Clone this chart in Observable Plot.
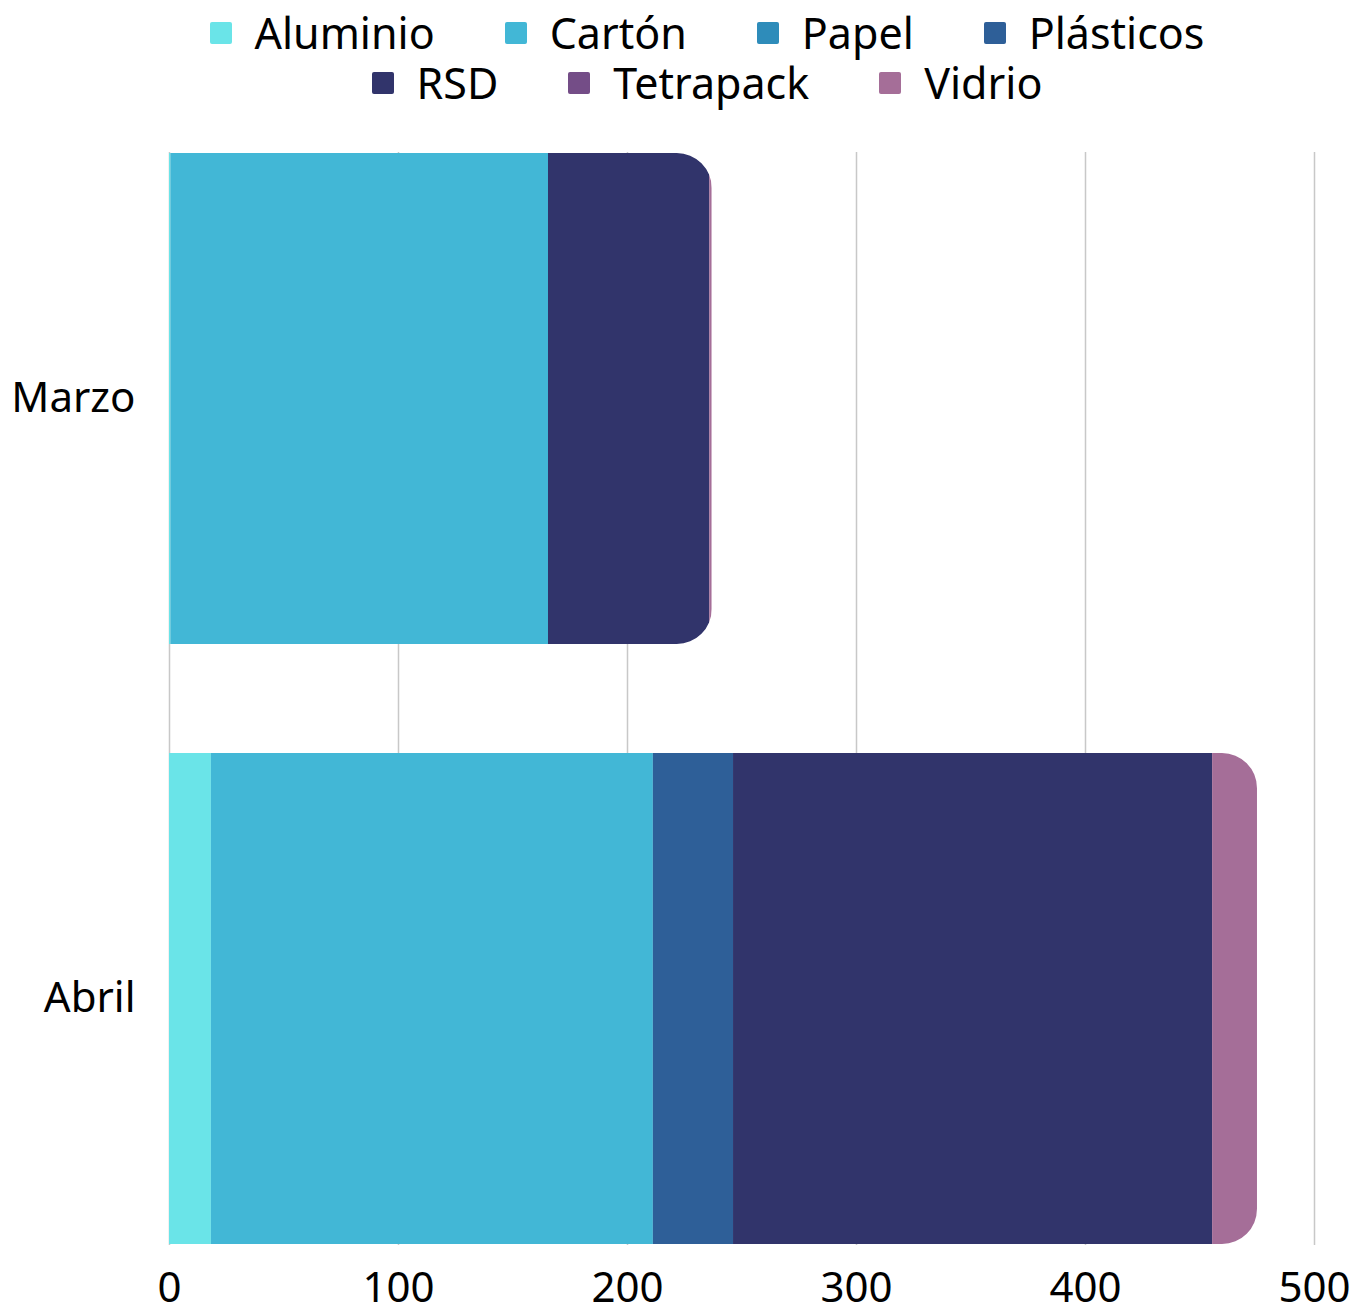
<!DOCTYPE html>
<html>
<head>
<meta charset="utf-8">
<script src="https://cdn.jsdelivr.net/npm/d3@7"></script>
<script src="https://cdn.jsdelivr.net/npm/@observablehq/plot@0.6"></script>
<style>
  body { margin: 0; background: #fff; font-family: "Noto Sans", sans-serif; }
  #legend { width: 1110px; margin-left: 152px; height: 110px; display: flex; flex-wrap: wrap; justify-content: center; align-content: flex-start; padding-top: 8px; box-sizing: border-box; }
  .item { display: flex; align-items: center; font-size: 43px; line-height: 50px; margin: 0 35px; color: #000; }
  .sw { width: 22px; height: 22px; border-radius: 2px; margin-right: 23px; }
</style>
</head>
<body>
<div id="legend"></div>
<div id="chart"></div>
<script>
const months = ["Marzo", "Abril"];
const categories = ["Aluminio", "Cartón", "Papel", "Plásticos", "RSD", "Tetrapack", "Vidrio"];
const colors = ["#6ae4e8", "#42b7d6", "#2e8cba", "#2e5f98", "#31346b", "#744d87", "#a56e98"];
const aluminio = [0.6, 18.3];
const carton = [164.9, 193];
const papel = [0, 0];
const plasticos = [0, 35];
const rsd = [70.4, 209.2];
const tetrapack = [0, 0];
const vidrio = [1.1, 19.6];
const xTicks = [0, 100, 200, 300, 400, 500];

const series = [aluminio, carton, papel, plasticos, rsd, tetrapack, vidrio];
const data = [];
months.forEach((m, i) => categories.forEach((c, j) => data.push({month: m, category: c, value: series[j][i]})));
const totals = months.map((m, i) => ({month: m, total: d3.sum(series, s => s[i])}));

// legend
const legend = document.getElementById("legend");
categories.forEach((c, j) => {
  const it = document.createElement("div");
  it.className = "item";
  it.innerHTML = `<span class="sw" style="background:${colors[j]}"></span><span>${c}</span>`;
  legend.appendChild(it);
});

const chart = Plot.plot({
  width: 1359,
  height: 1203,
  marginLeft: 169,
  marginRight: 45,
  marginTop: 42,
  marginBottom: 68,
  style: {fontFamily: "Noto Sans, sans-serif", fontSize: "42px", color: "#000", background: "#fff", overflow: "visible"},
  x: {domain: [0, 500], ticks: xTicks, label: null, tickSize: 0, tickPadding: 27},
  y: {domain: months, label: null, tickSize: 0, tickPadding: 34, paddingInner: 0.181, paddingOuter: 0},
  color: {domain: categories, range: colors},
  marks: [
    Plot.gridX(xTicks, {stroke: "#c8c8c8", strokeOpacity: 1, strokeWidth: 1.5}),
    Plot.barX(data, {x: "value", y: "month", fill: "category", order: categories, ariaDescription: "segments"}),
    Plot.barX(totals, {x1: -30, x2: "total", y: "month", rx: 35, fill: "black", ariaDescription: "clipshape"})
  ]
});
document.getElementById("chart").appendChild(chart);

// turn rounded total bars into a clip path for the stacked segments
const svg = chart.tagName.toLowerCase() === "svg" ? chart : chart.querySelector("svg");
const barGroups = Array.from(svg.querySelectorAll('g[aria-label="bar"]'));
const segG = svg.querySelector('g[aria-description="segments"]') || barGroups[0];
const shapeG = svg.querySelector('g[aria-description="clipshape"]') || barGroups[barGroups.length - 1];
const ns = "http://www.w3.org/2000/svg";
const defs = document.createElementNS(ns, "defs");
const cp = document.createElementNS(ns, "clipPath");
cp.setAttribute("id", "roundclip");
const gt = shapeG.getAttribute("transform");
Array.from(shapeG.querySelectorAll("rect")).forEach(r => {
  if (gt) r.setAttribute("transform", gt);
  cp.appendChild(r);
});
defs.appendChild(cp);
svg.insertBefore(defs, svg.firstChild);
shapeG.remove();
segG.setAttribute("clip-path", "url(#roundclip)");
</script>
</body>
</html>
